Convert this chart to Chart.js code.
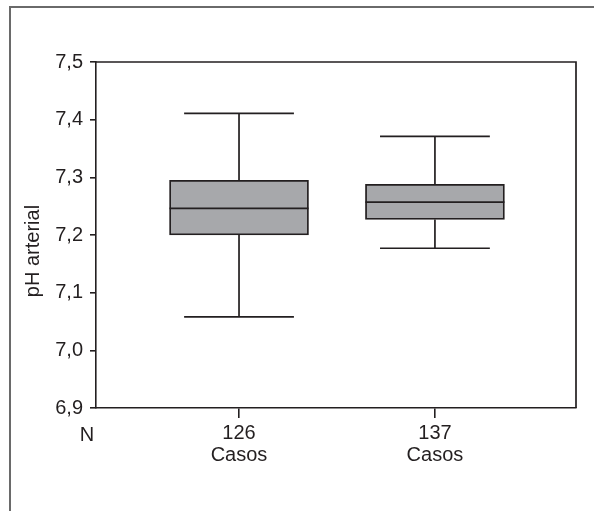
<!DOCTYPE html>
<html>
<head>
<meta charset="utf-8">
<script src="https://cdn.jsdelivr.net/npm/chart.js@4"></script>
<style>
  body { margin: 0; background: #fff; }
  #wrap { position: relative; width: 594px; height: 511px; overflow: hidden; }
  #frame { position: absolute; left: 9px; top: 6px; width: 700px; height: 700px;
           border-left: 2px solid #6a6a6a; border-top: 2px solid #6a6a6a; }
  canvas { position: absolute; left: 0; top: 0; }
</style>
</head>
<body>
<div id="wrap">
  <div id="frame"></div>
  <canvas id="box-chart" width="594" height="511"></canvas>
</div>
<script>
// N per group, shown under each box
const groups = ['126', '137']
const groupLabel = 'Casos'
const whiskerLow = [7.058, 7.177]
const q1 = [7.200, 7.227]
const median = [7.246, 7.257]
const q3 = [7.295, 7.288]
const whiskerHigh = [7.411, 7.371]
const yTicks = [6.9, 7.0, 7.1, 7.2, 7.3, 7.4, 7.5]

const INK = '#231f20'
const FONT = "'Liberation Sans', Arial, sans-serif"

// whiskers, caps, medians and the rest of the frame
const boxExtras = {
  id: 'boxExtras',
  afterDatasetsDraw(chart) {
    const { ctx, chartArea: area, scales: { x, y } } = chart
    const bars = chart.getDatasetMeta(0).data
    ctx.save()
    ctx.strokeStyle = INK
    ctx.lineWidth = 1.7
    groups.forEach((g, i) => {
      const cx = x.getPixelForValue(i + 1)
      const half = bars[i].width / 2
      const cap = half * 0.79
      ctx.beginPath()
      ctx.moveTo(cx, y.getPixelForValue(q3[i]))
      ctx.lineTo(cx, y.getPixelForValue(whiskerHigh[i]))
      ctx.moveTo(cx - cap, y.getPixelForValue(whiskerHigh[i]))
      ctx.lineTo(cx + cap, y.getPixelForValue(whiskerHigh[i]))
      ctx.moveTo(cx, y.getPixelForValue(q1[i]))
      ctx.lineTo(cx, y.getPixelForValue(whiskerLow[i]))
      ctx.moveTo(cx - cap, y.getPixelForValue(whiskerLow[i]))
      ctx.lineTo(cx + cap, y.getPixelForValue(whiskerLow[i]))
      ctx.moveTo(cx - half, y.getPixelForValue(median[i]))
      ctx.lineTo(cx + half, y.getPixelForValue(median[i]))
      ctx.stroke()
    })
    // top and right side of the plot box
    ctx.beginPath()
    ctx.moveTo(area.left, area.top)
    ctx.lineTo(area.right, area.top)
    ctx.lineTo(area.right, area.bottom)
    ctx.stroke()

    ctx.fillStyle = INK
    ctx.font = '20px ' + FONT
    ctx.textAlign = 'center'
    ctx.textBaseline = 'top'
    ctx.fillText('N', area.left - 9, area.bottom + 17)

    ctx.translate(33, (area.top + area.bottom) / 2 + 16)
    ctx.rotate(-Math.PI / 2)
    ctx.textBaseline = 'middle'
    ctx.fillText('pH arterial', 0, 0)
    ctx.restore()
  }
}

new Chart(document.getElementById('box-chart'), {
  type: 'bar',
  data: {
    datasets: [{
      data: groups.map((g, i) => ({ x: i + 1, y: [q1[i], q3[i]] })),
      backgroundColor: '#a7a8ab',
      borderColor: INK,
      borderWidth: 1.8,
      borderSkipped: false,
      barThickness: 139
    }]
  },
  options: {
    responsive: false,
    animation: false,
    layout: { padding: { left: 0, top: 62, right: 18, bottom: 0 } },
    plugins: { legend: { display: false }, tooltip: { enabled: false } },
    scales: {
      x: {
        type: 'linear',
        offset: false,
        min: 0.27,
        max: 2.72,
        afterBuildTicks: s => { s.ticks = groups.map((g, i) => ({ value: i + 1 })) },
        afterFit: s => { s.height = 103 },
        grid: { offset: false, drawOnChartArea: false, tickLength: 10, color: INK, lineWidth: 1.6 },
        border: { color: INK, width: 1.6 },
        ticks: {
          color: INK,
          font: { family: FONT, size: 20, lineHeight: 1.1 },
          padding: 4,
          maxRotation: 0,
          callback: (v) => [groups[v - 1], groupLabel]
        }
      },
      y: {
        min: 6.9,
        max: 7.5,
        afterBuildTicks: s => { s.ticks = yTicks.map(v => ({ value: v })) },
        afterFit: s => { s.width = 96 },
        grid: { drawOnChartArea: false, tickLength: 6, color: INK, lineWidth: 1.6 },
        border: { color: INK, width: 1.6 },
        ticks: {
          color: INK,
          font: { family: FONT, size: 20 },
          padding: 7,
          callback: v => v.toFixed(1).replace('.', ',')
        }
      }
    }
  },
  plugins: [boxExtras]
})
</script>
</body>
</html>
